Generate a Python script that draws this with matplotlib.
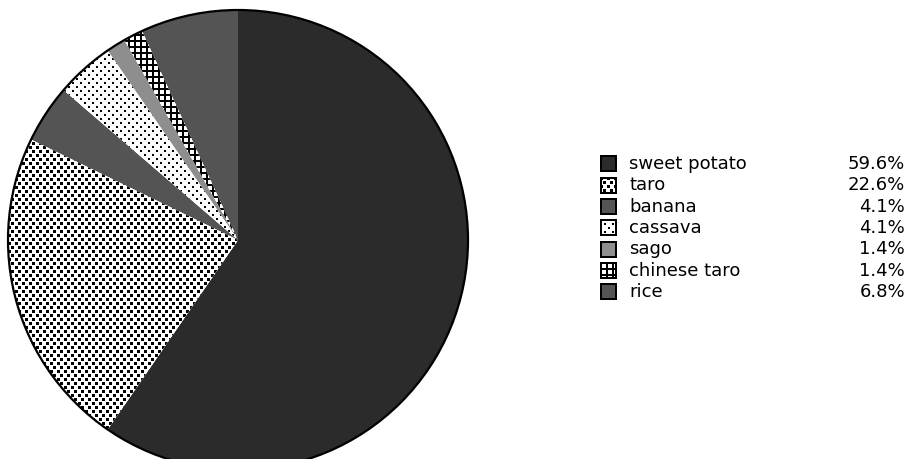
import numpy as np
import matplotlib
matplotlib.use("Agg")
import matplotlib.pyplot as plt
from matplotlib.colors import to_rgb
from matplotlib.patches import Circle

crops = ["sweet potato", "taro", "banana", "cassava", "sago", "chinese taro", "rice"]
counts = [87, 33, 6, 6, 2, 2, 10]
fills = ["#2b2b2b", "taro", "#545454", "cassava", "#8e8e8e", "grid", "#545454"]

W, H = 909, 459
fig = plt.figure(figsize=(W / 100, H / 100), dpi=100)


def tile(name):
    if name == "taro":
        t = np.zeros((8, 7), int)
        t[0:3, 0:3] = 1
        t[4:7, 3:6] = 1
    elif name == "cassava":
        t = np.zeros((8, 8), int)
        t[0:2, 0:2] = 1
        t[4:6, 4:6] = 1
    else:  # grid
        t = np.zeros((6, 6), int)
        t[0:2, :] = 1
        t[:, 0:2] = 1
    return t


def texture(name, h, w):
    t = tile(name)
    big = np.tile(t, (h // t.shape[0] + 1, w // t.shape[1] + 1))[:h, :w]
    return np.where(big[..., None] == 1, 0.0, 1.0) * np.ones(3)


def swatch(fill, size=17, border=2):
    if fill.startswith("#"):
        img = np.ones((size, size, 3)) * np.array(to_rgb(fill))
    else:
        img = texture(fill, size, size)
    img[:border, :] = 0
    img[-border:, :] = 0
    img[:, :border] = 0
    img[:, -border:] = 0
    return img


# pie
R = 230
cx, cy = 238, 240  # centre in pixels from top-left
ax = fig.add_axes([(cx - R) / W, (H - cy - R) / H, 2 * R / W, 2 * R / H])
wedges, _ = ax.pie(counts, startangle=90, counterclock=False,
                   colors=[f if f.startswith("#") else "white" for f in fills],
                   wedgeprops=dict(linewidth=0))
for w, f in zip(wedges, fills):
    if not f.startswith("#"):
        im = ax.imshow(texture(f, 2 * R, 2 * R), extent=(-1, 1, -1, 1),
                       interpolation="nearest", zorder=2)
        im.set_clip_path(w)
ax.add_patch(Circle((0, 0), 1, fill=False, ec="black", lw=1.6, zorder=3, clip_on=False))
ax.set_xlim(-1, 1)
ax.set_ylim(-1, 1)
ax.set_aspect("equal")
ax.axis("off")

# legend
total = sum(counts)
for i, (name, n, f) in enumerate(zip(crops, counts, fills)):
    yc = 164 + i * 21.3
    fig.figimage(swatch(f), xo=600, yo=int(H - yc - 8), origin="upper", zorder=3)
    fig.text(629 / W, 1 - yc / H, name, ha="left", va="center",
             fontsize=13, color="black", family="DejaVu Sans")
    fig.text(905 / W, 1 - yc / H, "{:.1f}%".format(100 * n / total), ha="right",
             va="center", fontsize=13, color="black", family="DejaVu Sans")

fig.savefig("out.png", dpi=100)
